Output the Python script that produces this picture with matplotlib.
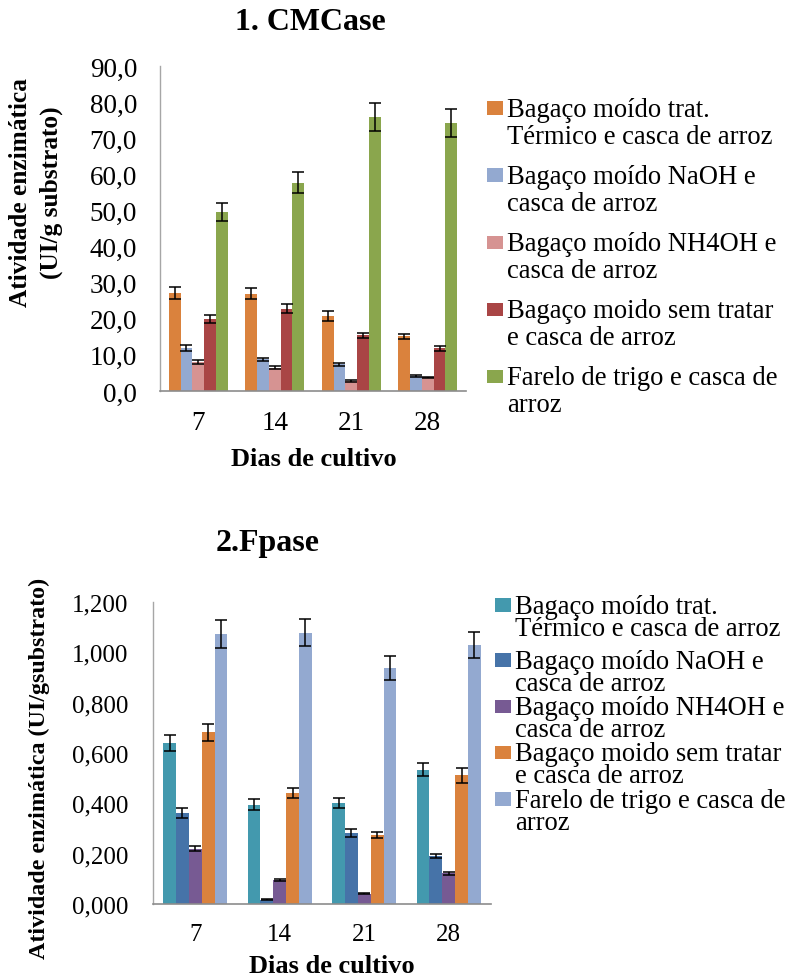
import matplotlib
matplotlib.use("Agg")
import matplotlib.pyplot as plt
import numpy as np
from matplotlib.legend_handler import HandlerPatch
from matplotlib.patches import Rectangle
from matplotlib.ticker import FuncFormatter

plt.rcParams['font.family'] = ['Liberation Serif', 'DejaVu Serif']

days = ["7", "14", "21", "28"]

# Chart 1: CMCase
cmc_labels = ["Bagaço moído trat.\nTérmico e casca de arroz",
              "Bagaço moído NaOH e\ncasca de arroz",
              "Bagaço moído NH4OH e\ncasca de arroz",
              "Bagaço moido sem tratar\ne casca de arroz",
              "Farelo de trigo e casca de\narroz"]
cmc_termico = [27.2, 27.0, 20.8, 15.2]
cmc_naoh = [12.0, 8.8, 7.4, 4.2]
cmc_nh4oh = [8.1, 6.5, 2.8, 3.8]
cmc_sem = [19.9, 22.8, 15.4, 11.8]
cmc_farelo = [49.6, 57.7, 75.9, 74.3]
cmc_termico_err = [1.6, 1.5, 1.3, 0.7]
cmc_naoh_err = [0.8, 0.4, 0.4, 0.2]
cmc_nh4oh_err = [0.6, 0.4, 0.2, 0.2]
cmc_sem_err = [1.2, 1.2, 0.7, 0.6]
cmc_farelo_err = [2.5, 2.9, 3.8, 3.9]
cmc_colors = ["#DA823D", "#93A9D0", "#D69392", "#A94545", "#8AA64D"]

# Chart 2: Fpase
fp_labels = cmc_labels
fp_termico = [0.640, 0.395, 0.402, 0.534]
fp_naoh = [0.361, 0.017, 0.282, 0.192]
fp_nh4oh = [0.219, 0.095, 0.041, 0.123]
fp_sem = [0.683, 0.442, 0.275, 0.511]
fp_farelo = [1.074, 1.078, 0.938, 1.028]
fp_termico_err = [0.033, 0.022, 0.020, 0.025]
fp_naoh_err = [0.020, 0.002, 0.016, 0.008]
fp_nh4oh_err = [0.010, 0.005, 0.002, 0.006]
fp_sem_err = [0.034, 0.020, 0.012, 0.030]
fp_farelo_err = [0.055, 0.053, 0.048, 0.052]
fp_colors = ["#4399AE", "#4673A8", "#775A93", "#DA823D", "#93A9D0"]


class FirstLineHandler(HandlerPatch):
    """Square legend key aligned with the first line of a 2-line label."""
    def __init__(self, shift, **kw):
        super().__init__(**kw)
        self.shift = shift

    def create_artists(self, legend, orig_handle, xdescent, ydescent,
                       width, height, fontsize, trans):
        r = Rectangle((-xdescent, -ydescent + self.shift), width, height,
                      facecolor=orig_handle.get_facecolor(),
                      edgecolor='none', transform=trans)
        return [r]


W, H = 789, 979
fig = plt.figure(figsize=(W / 100, H / 100), dpi=100)


def style_axes(ax, fmt, fs, ypad):
    for s in ['top', 'right']:
        ax.spines[s].set_visible(False)
    ax.spines['left'].set_color('#A6A6A6')
    ax.spines['bottom'].set_color('#8C8C8C')
    ax.spines['left'].set_linewidth(1.0)
    ax.spines['bottom'].set_linewidth(1.2)
    ax.tick_params(axis='both', length=0, labelsize=fs)
    ax.tick_params(axis='y', pad=ypad)
    ax.tick_params(axis='x', pad=14)
    ax.yaxis.set_major_formatter(FuncFormatter(lambda v, p: fmt.format(v).replace('.', ',')))


def draw(ax, series, errs, colors, labels, group_w):
    x = np.arange(len(days))
    n = len(series)
    bw = group_w / n
    handles = []
    for i, (vals, e, c, lab) in enumerate(zip(series, errs, colors, labels)):
        pos = x - group_w / 2 + bw * (i + 0.5)
        b = ax.bar(pos, vals, bw, color=c, label=lab, zorder=2)
        ax.errorbar(pos, vals, yerr=e, fmt='none', ecolor='black',
                    elinewidth=1.1, capsize=4.5, capthick=1.1, zorder=3)
        handles.append(b[0])
    ax.set_xticks(x)
    ax.set_xticklabels(days)
    ax.set_xlim(-0.5, len(days) - 0.5)
    return handles


# Top chart
ax1 = fig.add_axes([160 / W, 1 - 392 / H, 306 / W, 325 / H])
h1 = draw(ax1, [cmc_termico, cmc_naoh, cmc_nh4oh, cmc_sem, cmc_farelo],
          [cmc_termico_err, cmc_naoh_err, cmc_nh4oh_err, cmc_sem_err, cmc_farelo_err],
          cmc_colors, cmc_labels, 0.77)
ax1.set_ylim(0, 90)
ax1.set_yticks(np.arange(0, 91, 10))
style_axes(ax1, "{:.1f}", 19.5, 16.5)

# Bottom chart
ax2 = fig.add_axes([153 / W, 1 - 905 / H, 338 / W, 302 / H])
h2 = draw(ax2, [fp_termico, fp_naoh, fp_nh4oh, fp_sem, fp_farelo],
          [fp_termico_err, fp_naoh_err, fp_nh4oh_err, fp_sem_err, fp_farelo_err],
          fp_colors, fp_labels, 0.76)
ax2.set_ylim(0, 1.2)
ax2.set_yticks(np.arange(0, 1.21, 0.2))
style_axes(ax2, "{:.3f}", 18, 18)

# Titles and labels
fig.text(310 / W, 1 - 23 / H, "1. CMCase", ha='center', va='center',
         fontsize=23, fontweight='bold')
fig.text(268 / W, 1 - 543 / H, "2.Fpase", ha='center', va='center',
         fontsize=23, fontweight='bold')
fig.text(314 / W, 1 - 459 / H, "Dias de cultivo", ha='center', va='center',
         fontsize=19, fontweight='bold')
fig.text(332 / W, 1 / H, "Dias de cultivo", ha='center', va='bottom',
         fontsize=19, fontweight='bold')
fig.text(36 / W, 1 - 193 / H, "Atividade enzimática\n(UI/g substrato)",
         ha='center', va='center', rotation=90, fontsize=18.3,
         fontweight='bold', linespacing=1.4)
fig.text(39 / W, 1 - 768 / H, "Atividade enzimática (UI/gsubstrato)",
         ha='center', va='center', rotation=90, fontsize=17.3,
         fontweight='bold')

fs = 19.2
common = dict(loc='upper left', frameon=False, fontsize=fs,
              handlelength=0.6, handleheight=0.4, handletextpad=0.15,
              borderpad=0, borderaxespad=0)


def step_pt(ls):
    return (0.22 + ls * 0.69) * fs


ls_top = 1.1
leg1 = fig.legend(h1, cmc_labels, bbox_to_anchor=(487 / W, 1 - 97.6 / H),
                  labelspacing=0.57,
                  handler_map={Rectangle: FirstLineHandler(shift=0.5 * step_pt(ls_top) + 1)},
                  **common)
for t in leg1.get_texts():
    t.set_linespacing(ls_top)

ls_bot = 0.85
hm_bot = {Rectangle: FirstLineHandler(shift=0.5 * step_pt(ls_bot) + 1)}
leg2a = fig.legend(h2[:1], fp_labels[:1], bbox_to_anchor=(495 / W, 1 - 594.6 / H),
                   labelspacing=0, handler_map=hm_bot, **common)
leg2b = fig.legend(h2[1:], fp_labels[1:], bbox_to_anchor=(495 / W, 1 - 649.6 / H),
                   labelspacing=-0.03, handler_map=hm_bot, **common)
for lg in (leg2a, leg2b):
    for t in lg.get_texts():
        t.set_linespacing(ls_bot)

fig.savefig("out.png", dpi=100, facecolor='white')
